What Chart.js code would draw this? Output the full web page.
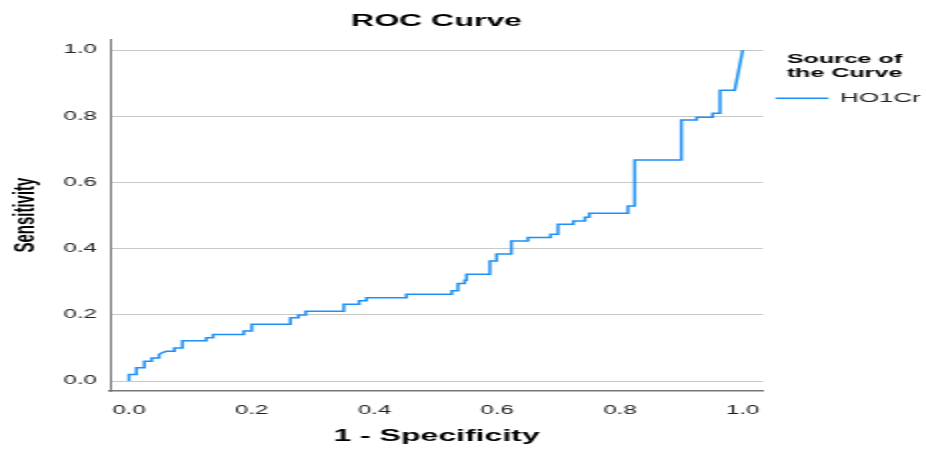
<!DOCTYPE html>
<html>
<head>
<meta charset="utf-8">
<script src="https://cdn.jsdelivr.net/npm/chart.js@4.4.1/dist/chart.umd.min.js"></script>
<style>
  html, body { margin: 0; padding: 0; background: #fff; }
</style>
</head>
<body>
<!-- the reference is a horizontally stretched SPSS export, so draw at half width and stretch the canvas -->
<canvas id="rocChart" width="463" height="450" style="width:926px;height:450px;display:block"></canvas>
<script>
// ROC coordinates (1 - specificity, sensitivity)
const fpr = [0, 0, 0.012, 0.012, 0.025, 0.025, 0.037, 0.037, 0.049, 0.049, 0.053, 0.061, 0.074, 0.074,
  0.087, 0.087, 0.126, 0.126, 0.137, 0.137, 0.187, 0.187, 0.2, 0.2, 0.263, 0.263, 0.276, 0.276,
  0.288, 0.288, 0.35, 0.35, 0.375, 0.375, 0.387, 0.387, 0.452, 0.452, 0.526, 0.526, 0.536, 0.536,
  0.547, 0.547, 0.55, 0.55, 0.588, 0.588, 0.599, 0.599, 0.623, 0.623, 0.65, 0.65, 0.687, 0.687,
  0.699, 0.699, 0.724, 0.724, 0.743, 0.743, 0.75, 0.75, 0.813, 0.813, 0.824, 0.824, 0.9, 0.9,
  0.925, 0.925, 0.951, 0.951, 0.963, 0.963, 0.987, 1];
const tpr = [0, 0.02, 0.02, 0.04, 0.04, 0.06, 0.06, 0.07, 0.07, 0.08, 0.085, 0.09, 0.09, 0.1,
  0.1, 0.122, 0.122, 0.131, 0.131, 0.141, 0.141, 0.151, 0.151, 0.172, 0.172, 0.191, 0.191, 0.2,
  0.2, 0.211, 0.211, 0.232, 0.232, 0.243, 0.243, 0.252, 0.252, 0.262, 0.262, 0.273, 0.273, 0.295,
  0.295, 0.305, 0.305, 0.323, 0.323, 0.363, 0.363, 0.384, 0.384, 0.423, 0.423, 0.434, 0.434, 0.444,
  0.444, 0.474, 0.474, 0.484, 0.484, 0.495, 0.495, 0.507, 0.507, 0.529, 0.529, 0.668, 0.668, 0.789,
  0.789, 0.797, 0.797, 0.809, 0.809, 0.879, 0.879, 1];
const xTicks = [0, 0.2, 0.4, 0.6, 0.8, 1.0];
const yTicks = [0, 0.2, 0.4, 0.6, 0.8, 1.0];
const seriesName = 'HO1Cr';

const lineBlue = '#1e90f5';
const font = 'Liberation Sans, Arial, sans-serif';

const points = fpr.map((x, i) => ({ x: x, y: tpr[i] }));

new Chart(document.getElementById('rocChart'), {
  type: 'line',
  data: {
    datasets: [{
      label: seriesName,
      data: points,
      borderColor: lineBlue,
      backgroundColor: lineBlue,
      borderWidth: 1.5,
      pointRadius: 0,
      tension: 0,
      fill: false
    }]
  },
  options: {
    responsive: false,
    maintainAspectRatio: false,
    devicePixelRatio: 1,
    animation: false,
    layout: { padding: 0 },
    plugins: {
      title: {
        display: true,
        text: 'ROC Curve',
        fullSize: false,
        color: '#000',
        font: { family: font, size: 16, weight: 'bold' },
        padding: { top: 12, bottom: 8 }
      },
      legend: {
        display: true,
        position: 'right',
        align: 'start',
        fullSize: false,
        maxWidth: 81.5,
        title: {
          display: true,
          text: ['Source of', 'the Curve'],
          color: '#000',
          font: { family: font, size: 12.5, weight: 'bold', lineHeight: 1.05 },
          padding: { top: 14.5, bottom: 18 }
        },
        labels: {
          boxWidth: 25,
          boxHeight: 0.01,
          padding: 7,
          color: '#222',
          font: { family: font, size: 13 }
        }
      },
      tooltip: { enabled: false }
    },
    scales: {
      x: {
        type: 'linear',
        position: 'bottom',
        min: -0.031,
        max: 1.033,
        afterBuildTicks: s => { s.ticks = xTicks.map(v => ({ value: v })); },
        afterFit: s => { s.height = 59; },
        grid: { display: false },
        border: { color: '#777', width: 1.5 },
        ticks: {
          color: '#222',
          padding: 4,
          font: { family: font, size: 12 },
          callback: v => Number(v).toFixed(1)
        },
        title: {
          display: true,
          text: '1 - Specificity',
          color: '#000',
          font: { family: font, size: 16, weight: 'bold' },
          padding: { top: 0, bottom: 3.5 }
        }
      },
      y: {
        type: 'linear',
        min: -0.03,
        max: 1.033,
        afterBuildTicks: s => { s.ticks = yTicks.map(v => ({ value: v })); },
        afterFit: s => { s.width = 55; },
        grid: { color: '#c8c8c8', lineWidth: 1, drawTicks: false },
        border: { color: '#777', width: 1 },
        ticks: {
          color: '#222',
          padding: 6.5,
          font: { family: font, size: 12 },
          callback: v => Number(v).toFixed(1)
        },
        title: {
          display: true,
          text: 'Sensitivity',
          color: '#000',
          font: { family: font, size: 15, weight: 'bold' },
          padding: { top: 4, bottom: 0 }
        }
      }
    }
  }
});
</script>
</body>
</html>
